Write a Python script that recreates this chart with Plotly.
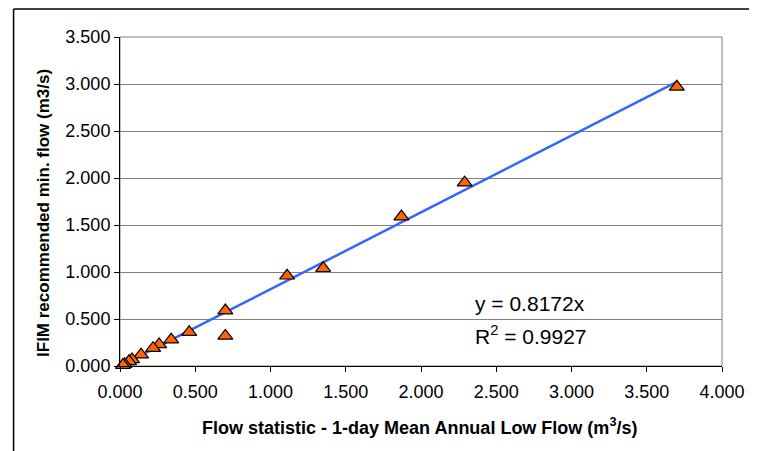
import plotly.graph_objects as go

# Data
flow_stat = [3.70, 2.29, 1.87, 1.35, 1.11, 0.70, 0.70, 0.46, 0.34, 0.26, 0.22, 0.14, 0.08, 0.06, 0.03, 0.02]
ifim_flow = [2.97, 1.95, 1.59, 1.04, 0.96, 0.59, 0.32, 0.36, 0.28, 0.23, 0.19, 0.12, 0.07, 0.05, 0.02, 0.01]
slope = 0.8172
r_squared = 0.9927
trend_x = [0.0, 3.70]
trend_y = [slope * v for v in trend_x]
x_ticks = [0, 0.5, 1.0, 1.5, 2.0, 2.5, 3.0, 3.5, 4.0]
y_ticks = [0, 0.5, 1.0, 1.5, 2.0, 2.5, 3.0, 3.5]
x_title = "<b>Flow statistic - 1-day Mean Annual Low Flow (m<sup>3</sup>/s)</b>"
y_title = "<b>IFIM recommended min. flow (m3/s)</b>"

font = "Liberation Sans, Arial, sans-serif"

fig = go.Figure()
fig.add_trace(go.Scatter(
    x=trend_x, y=trend_y, mode="lines",
    line=dict(color="#3366FF", width=2.5), showlegend=False, cliponaxis=False))
fig.add_trace(go.Scatter(
    x=flow_stat, y=ifim_flow, mode="markers",
    marker=dict(symbol="triangle-up", size=13, color="#FF6600",
                line=dict(color="black", width=1.2)),
    showlegend=False, cliponaxis=False))

fig.update_layout(
    width=749, height=443,
    margin=dict(l=112, r=26, t=29, b=85),
    paper_bgcolor="white", plot_bgcolor="white",
    font=dict(family=font, color="black", size=18),
    xaxis=dict(range=[0, 4], tickvals=x_ticks, tickformat=".3f",
               showgrid=False, zeroline=False,
               showline=True, linecolor="black", linewidth=1,
               ticks="outside", ticklen=5, tickcolor="black",
               tickfont=dict(size=18), ticklabelstandoff=4),
    yaxis=dict(range=[0, 3.5], tickvals=y_ticks, tickformat=".3f",
               showgrid=True, gridcolor="#808080", gridwidth=1,
               zeroline=False,
               showline=True, linecolor="black", linewidth=1,
               ticks="outside", ticklen=5, tickcolor="black",
               tickfont=dict(size=18)),
    annotations=[
        dict(x=0.497, y=-0.185, xref="paper", yref="paper", xanchor="center", yanchor="middle",
             text=x_title, showarrow=False, font=dict(size=18)),
        dict(x=-0.128, y=0.465, xref="paper", yref="paper", xanchor="center", yanchor="middle",
             text=y_title, textangle=-90, showarrow=False, font=dict(size=17)),
        dict(x=2.343, y=0.67, xref="x", yref="y", xanchor="left", yanchor="middle",
             text=f"y = {slope}x", showarrow=False, font=dict(size=21)),
        dict(x=2.343, y=0.33, xref="x", yref="y", xanchor="left", yanchor="middle",
             text=f"R<sup>2</sup> = {r_squared}", showarrow=False, font=dict(size=21)),
    ],
    shapes=[
        # plot area border (gray)
        dict(type="rect", xref="paper", yref="paper", x0=0, y0=0, x1=1, y1=1,
             line=dict(color="#808080", width=1), layer="below"),
        # outer chart frame
        dict(type="line", xref="paper", yref="paper", x0=-0.1768, y0=-0.3, x1=-0.1768, y1=1.085,
             line=dict(color="black", width=1.5)),
        dict(type="line", xref="paper", yref="paper", x0=-0.1768, y0=1.085, x1=1.1, y1=1.085,
             line=dict(color="black", width=1.5)),
    ],
)

fig.write_html("out.html")
